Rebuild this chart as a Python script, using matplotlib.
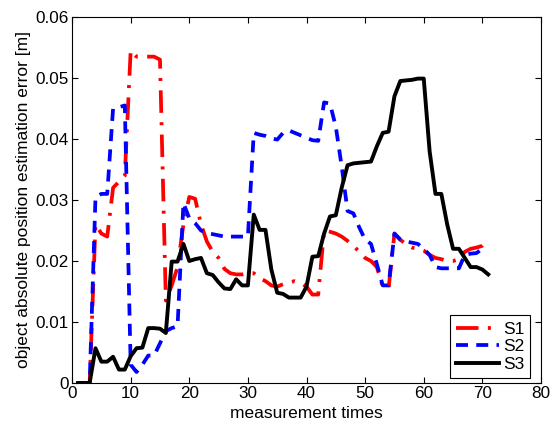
import matplotlib
matplotlib.use("Agg")
import matplotlib.pyplot as plt
import numpy as np

plt.rcParams['font.family'] = ['Liberation Sans', 'DejaVu Sans']

x_s1 = list(range(1, 72))
s1 = [0, 0, 0, 0.026, 0.0245, 0.024, 0.032, 0.033, 0.034, 0.0545,
      0.0535, 0.0535, 0.0535, 0.0535, 0.053, 0.0135, 0.016, 0.019, 0.026, 0.0305,
      0.0302, 0.026, 0.0232, 0.0215, 0.0205, 0.0187, 0.018, 0.0178, 0.0178, 0.018,
      0.018, 0.0172, 0.0167, 0.016, 0.0158, 0.0162, 0.0165, 0.0167, 0.0164, 0.0158,
      0.0145, 0.0145, 0.025, 0.0248, 0.0245, 0.024, 0.0233, 0.0225, 0.0215, 0.0205,
      0.02, 0.019, 0.0158, 0.0155, 0.0245, 0.0235, 0.0227, 0.0222, 0.022, 0.0217,
      0.021, 0.0205, 0.0203, 0.02, 0.02, 0.0203, 0.0215, 0.022, 0.0222, 0.0225,
      0.0235]

x_s2 = list(range(1, 71))
s2 = [0, 0, 0, 0.0305, 0.031, 0.031, 0.045, 0.0452, 0.0455, 0.003,
      0.0018, 0.003, 0.0045, 0.0045, 0.0065, 0.0085, 0.009, 0.0093, 0.0295, 0.027,
      0.0262, 0.025, 0.0246, 0.0244, 0.0242, 0.024, 0.024, 0.024, 0.024, 0.024,
      0.041, 0.0407, 0.0405, 0.0401, 0.0399, 0.041, 0.0414, 0.041, 0.0406, 0.0402,
      0.0398, 0.0397, 0.046, 0.0458, 0.042, 0.0355, 0.0282, 0.0278, 0.0255, 0.0235,
      0.0228, 0.0195, 0.016, 0.016, 0.0245, 0.0235, 0.0232, 0.023, 0.0228, 0.022,
      0.021, 0.019, 0.0188, 0.0188, 0.0188, 0.0188, 0.021, 0.0212, 0.0213, 0.022]

x_s3 = list(range(1, 72))
s3 = [0, 0, 0, 0.0057, 0.0035, 0.0035, 0.0043, 0.0022, 0.0022, 0.0044,
      0.0057, 0.0058, 0.009, 0.009, 0.0089, 0.0082, 0.0199, 0.0199, 0.0228, 0.02,
      0.0203, 0.0205, 0.018, 0.0177, 0.0165, 0.0155, 0.0154, 0.017, 0.016, 0.016,
      0.0276, 0.0251, 0.0251, 0.0186, 0.0148, 0.0146, 0.014, 0.014, 0.014, 0.0158,
      0.0207, 0.0208, 0.0245, 0.0273, 0.0275, 0.032, 0.0357, 0.036, 0.0361, 0.0362,
      0.0363, 0.0388, 0.041, 0.0412, 0.047, 0.0495, 0.0496, 0.0497, 0.0499, 0.0499,
      0.038, 0.031, 0.031, 0.026, 0.022, 0.022, 0.0205, 0.019, 0.019, 0.0186,
      0.0178]

labels = ['S1', 'S2', 'S3']
xticks = [0, 10, 20, 30, 40, 50, 60, 70, 80]
yticks = [0, 0.01, 0.02, 0.03, 0.04, 0.05, 0.06]
ytick_labels = ['0', '0.01', '0.02', '0.03', '0.04', '0.05', '0.06']

fig = plt.figure(figsize=(5.5, 4.3), dpi=100)
ax = fig.add_axes([0.131, 0.1093, 0.8526, 0.8512])

ax.plot(x_s1, s1, color='red', linestyle=(0, (6, 2.5, 0.8, 2.5)), linewidth=2.7, label=labels[0])
ax.plot(x_s2, s2, color='blue', linestyle=(0, (3.2, 2.2)), linewidth=2.7, label=labels[1])
ax.plot(x_s3, s3, color='black', linestyle='-', linewidth=2.8, label=labels[2])

ax.set_xlim(0, 80)
ax.set_ylim(0, 0.06)
ax.set_xticks(xticks)
ax.set_xticklabels([str(t) for t in xticks])
ax.set_yticks(yticks)
ax.set_yticklabels(ytick_labels)
ax.tick_params(direction='in', top=True, right=True, labelsize=12.3, length=4, width=0.8, pad=2.5)
for sp in ax.spines.values():
    sp.set_linewidth(0.8)

ax.set_xlabel('measurement times', fontsize=12.5, labelpad=3)
ax.set_ylabel('object absolute position estimation error [m]', fontsize=12.5, labelpad=3)

leg = ax.legend(loc='lower right', bbox_to_anchor=(0.977, 0.013), fontsize=12.5,
                frameon=True, fancybox=False,
                edgecolor='black', framealpha=1, handlelength=2.5,
                borderpad=0.35, labelspacing=0.15, handletextpad=0.2,
                borderaxespad=0.0)
leg.get_frame().set_linewidth(0.8)

fig.savefig('out.png', dpi=100)
